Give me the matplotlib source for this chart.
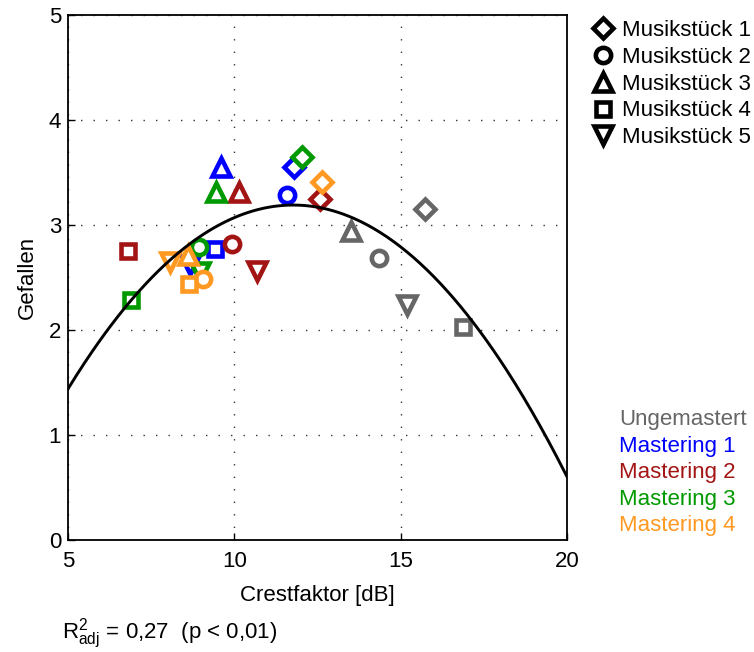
import numpy as np
import matplotlib
matplotlib.use("Agg")
import matplotlib.pyplot as plt
from matplotlib.lines import Line2D

plt.rcParams["font.family"] = ["Liberation Sans", "DejaVu Sans"]
plt.rcParams["mathtext.fontset"] = "custom"
plt.rcParams["mathtext.rm"] = "Liberation Sans"
plt.rcParams["mathtext.it"] = "Liberation Sans"
plt.rcParams["mathtext.default"] = "regular"

# Gruppen (Mastering-Varianten) und Musikstücke
groups = ["Ungemastert", "Mastering 1", "Mastering 2", "Mastering 3", "Mastering 4"]
pieces = ["Musikstück 1", "Musikstück 2", "Musikstück 3", "Musikstück 4", "Musikstück 5"]

# Crestfaktor [dB] je Gruppe, Reihenfolge: Stück 1..5
crest_ungemastert = [15.73, 14.36, 13.51, 16.86, 15.18]
crest_m1 = [11.79, 11.59, 9.59, 9.42, 8.67]
crest_m2 = [12.57, 9.94, 10.13, 6.81, 10.69]
crest_m3 = [12.04, 8.94, 9.45, 6.88, 8.97]
crest_m4 = [12.64, 9.07, 8.60, 8.65, 8.07]

# Gefallen je Gruppe
gef_ungemastert = [3.15, 2.69, 2.94, 2.03, 2.24]
gef_m1 = [3.55, 3.29, 3.55, 2.77, 2.62]
gef_m2 = [3.25, 2.82, 3.31, 2.75, 2.56]
gef_m3 = [3.65, 2.79, 3.31, 2.29, 2.55]
gef_m4 = [3.41, 2.49, 2.71, 2.44, 2.65]

# quadratischer Fit: y = a*(x-h)^2 + k
fit_a, fit_h, fit_k = -0.0382, 11.77, 3.19

crest = [crest_ungemastert, crest_m1, crest_m2, crest_m3, crest_m4]
gefallen = [gef_ungemastert, gef_m1, gef_m2, gef_m3, gef_m4]
colors = ["#666666", "#0000ff", "#a31515", "#009900", "#ff9922"]
markers = ["D", "o", "^", "s", "v"]
msizes = [10, 11, 13, 10, 13]

fig = plt.figure(figsize=(7.54, 6.52), dpi=100)
ax = fig.add_axes([68 / 754, 112 / 652, 499 / 754, 525 / 652])

for g in range(len(groups)):
    for p in range(len(pieces)):
        ax.plot(crest[g][p], gefallen[g][p], linestyle="none",
                marker=markers[p], markersize=msizes[p],
                markerfacecolor="white", markeredgecolor=colors[g],
                markeredgewidth=3.3, zorder=3)

xf = np.linspace(5, 20, 300)
ax.plot(xf, fit_a * (xf - fit_h) ** 2 + fit_k, color="black", linewidth=2.1, zorder=4)

ax.set_xlim(5, 20)
ax.set_ylim(0, 5)
ax.set_xticks([5, 10, 15, 20])
ax.set_yticks([0, 1, 2, 3, 4, 5])
ax.tick_params(direction="in", length=5, labelsize=16, pad=5, width=1)
ax.tick_params(axis="x", pad=8)
ax.grid(True, color="#333333", linestyle=(0, (1, 8)), linewidth=1)
for s in ax.spines.values():
    s.set_linewidth(1.3)

ax.set_xlabel("Crestfaktor [dB]", fontsize=16, labelpad=9)
ax.set_ylabel("Gefallen", fontsize=16, labelpad=8)

# Legende Musikstücke (Marker)
handles = [Line2D([], [], linestyle="none", marker=markers[p], markersize=msizes[p],
                  markerfacecolor="white", markeredgecolor="black", markeredgewidth=3.3)
           for p in range(len(pieces))]
leg1 = fig.legend(handles, pieces, loc="upper left", bbox_to_anchor=(594 / 754, 1 - 20 / 652),
                  frameon=False, fontsize=16, handlelength=0.8, handletextpad=0.45,
                  labelspacing=0.26, borderaxespad=0, borderpad=0)

# Legende Mastering (Textfarben)
text_handles = [Line2D([], [], linestyle="none") for _ in groups]
leg2 = fig.legend(text_handles, groups, loc="upper left", bbox_to_anchor=(619 / 754, 1 - 409 / 652),
                  frameon=False, fontsize=16, handlelength=0, handletextpad=0,
                  labelspacing=0.25, borderaxespad=0, borderpad=0)
for t, c in zip(leg2.get_texts(), colors):
    t.set_color(c)

fig.text(62 / 754, 1 - 634 / 652, r"$R^2_{adj}$ = 0,27  (p < 0,01)", fontsize=16, va="center")

fig.savefig("out.png", dpi=100)
